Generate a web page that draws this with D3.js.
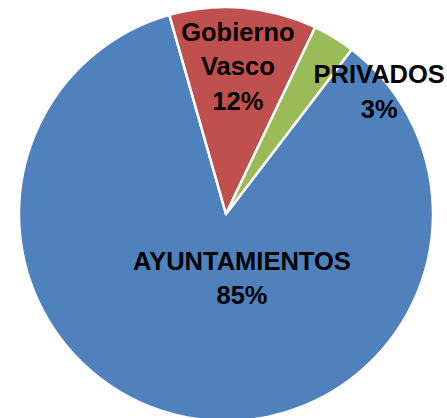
<!DOCTYPE html>
<html>
<head>
<meta charset="utf-8">
<script src="https://cdn.jsdelivr.net/npm/d3@7"></script>
<style>
  html, body { margin: 0; padding: 0; background: #fff; }
  svg { display: block; }
</style>
</head>
<body>
<svg id="chart" width="447" height="418"></svg>
<script>
// ---- data ----
const categories = ["AYUNTAMIENTOS", "Gobierno Vasco", "PRIVADOS"];
const values = [85.2, 11.5, 3.3];
const percentLabels = ["85%", "12%", "3%"];
const labelLines = [["AYUNTAMIENTOS", "85%"], ["Gobierno", "Vasco", "12%"], ["PRIVADOS", "3%"]];
const colors = ["#4F81BD", "#C0504D", "#9BBB59"];

// ---- layout ----
const W = 447, H = 418;
const cx = 226, cy = 214, R = 207;
const startDeg = 37.4;
// label placement: [angle in degrees clockwise from 12 o'clock, radius]
const labelPolar = [[166, 66], [4.6, 148], [51.4, 196]];

const svg = d3.select("#chart");
const g = svg.append("g").attr("transform", `translate(${cx},${cy})`);

const a0 = startDeg * Math.PI / 180;
const pie = d3.pie().sort(null).value(d => d).startAngle(a0).endAngle(a0 + 2 * Math.PI);
const arcs = pie(values);
const arc = d3.arc().innerRadius(0).outerRadius(R);

g.selectAll("path.slice")
  .data(arcs)
  .join("path")
  .attr("class", "slice")
  .attr("d", arc)
  .attr("fill", (d, i) => colors[i])
  .attr("stroke", "#fff")
  .attr("stroke-width", 2.5)
  .attr("stroke-linejoin", "round");

const lineH = 34.5;
const labels = g.selectAll("text.lbl")
  .data(arcs)
  .join("text")
  .attr("class", "lbl")
  .attr("font-family", "'Liberation Sans', Arial, sans-serif")
  .attr("font-weight", "bold")
  .attr("font-size", 25.5)
  .attr("fill", "#000")
  .attr("text-anchor", "middle")
  .each(function(d, i) {
    const [ang, rr] = labelPolar[i];
    const [px, py] = d3.pointRadial(ang * Math.PI / 180, rr);
    const lines = labelLines[i];
    const n = lines.length;
    const t = d3.select(this);
    lines.forEach((ln, k) => {
      t.append("tspan")
        .attr("x", px)
        .attr("y", py + (k - (n - 1) / 2) * lineH + 9)
        .text(ln);
    });
  });
</script>
</body>
</html>
